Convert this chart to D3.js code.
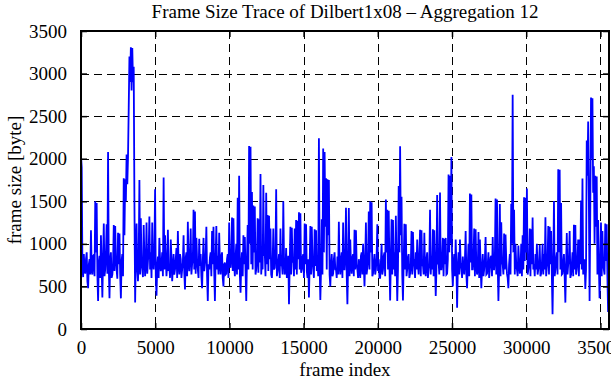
<!DOCTYPE html>
<html>
<head>
<meta charset="utf-8">
<script src="https://cdn.jsdelivr.net/npm/d3@7"></script>
<style>
  body { margin: 0; background: #fff; }
  text { font-family: "Liberation Serif", "Times New Roman", serif; fill: #000; }
</style>
</head>
<body>
<svg id="chart" width="611" height="380"></svg>
<script>
// frame size trace, one value every 48 frames
const frameStep = 48;
const frameSizes = [
  2040, 1900, 720, 610, 880, 700, 650, 820, 900, 560, 480, 760, 820, 640, 1160, 700, 640, 860, 870, 620,
  1500, 900, 1480, 640, 330, 780, 860, 600, 1100, 720, 370, 840, 1240, 620, 700, 880, 1230, 650, 2080, 740,
  360, 820, 900, 600, 640, 760, 1220, 680, 1210, 840, 700, 590, 1130, 760, 1120, 640, 360, 800, 880, 620,
  1770, 1100, 1760, 1500, 2050, 1700, 2020, 2600, 3200, 2900, 3310, 2800, 3300, 2900, 3080, 1500, 310, 900, 1240, 700,
  560, 820, 1750, 640, 1300, 760, 700, 610, 1220, 860, 620, 780, 1250, 650, 800, 900, 1320, 700, 900, 600,
  1250, 760, 700, 880, 1640, 620, 390, 740, 850, 600, 1070, 820, 680, 760, 900, 620, 1780, 700, 1100, 840,
  620, 760, 1165, 680, 750, 600, 1050, 840, 560, 720, 880, 640, 700, 820, 950, 600, 1150, 760, 640, 880,
  820, 600, 700, 780, 1100, 660, 465, 840, 900, 620, 1260, 760, 680, 880, 1180, 640, 760, 820, 1400, 700,
  1380, 650, 1070, 800, 700, 600, 1060, 740, 880, 620, 480, 800, 1070, 680, 760, 860, 1200, 620, 330, 760,
  700, 840, 900, 620, 1150, 760, 1200, 680, 330, 820, 1210, 700, 860, 640, 1130, 780, 640, 860, 900, 600,
  500, 760, 780, 640, 650, 820, 880, 600, 1250, 740, 720, 860, 1310, 680, 1300, 760, 620, 840, 1000, 640,
  1540, 700, 1800, 640, 425, 780, 900, 620, 1100, 760, 1080, 680, 330, 820, 1220, 700, 2150, 1000, 2140, 760,
  1610, 700, 1450, 900, 1440, 640, 700, 820, 1300, 660, 1290, 780, 1820, 640, 800, 700, 1690, 860, 900, 620,
  1600, 760, 1340, 680, 1330, 820, 1180, 640, 600, 760, 1180, 700, 720, 860, 1640, 620, 680, 780, 880, 600,
  1180, 740, 760, 640, 1500, 820, 640, 700, 950, 600, 700, 860, 290, 760, 1200, 640, 1190, 780, 820, 620,
  1180, 700, 1280, 640, 1270, 820, 1370, 700, 1360, 660, 700, 840, 880, 600, 1240, 760, 1230, 680, 600, 820,
  370, 760, 1210, 640, 1200, 820, 700, 600, 1170, 740, 1160, 680, 820, 620, 2240, 760, 340, 700, 1290, 640,
  2120, 900, 2080, 1200, 1770, 700, 1760, 1100, 1750, 640, 500, 760, 880, 620, 650, 820, 900, 700, 700, 600,
  850, 640, 1260, 760, 640, 820, 900, 600, 1250, 700, 700, 860, 1425, 640, 290, 780, 1420, 620, 1050, 760,
  650, 840, 880, 620, 1165, 700, 1160, 760, 700, 600, 820, 700, 600, 860, 900, 640, 1000, 760, 500, 820,
  1250, 640, 720, 820, 1380, 700, 1500, 900, 1490, 620, 650, 780, 880, 640, 700, 840, 1230, 680, 820, 600,
  600, 780, 1000, 640, 700, 860, 900, 620, 1520, 900, 1400, 700, 1390, 760, 336, 820, 1290, 640, 1280, 700,
  900, 620, 1330, 760, 330, 700, 1680, 900, 2145, 1100, 1554, 640, 335, 780, 1235, 700, 1230, 620, 700, 840,
  880, 600, 650, 760, 1150, 640, 1140, 820, 720, 600, 900, 700, 1050, 760, 640, 860, 1165, 620, 1160, 740,
  760, 640, 1130, 700, 620, 820, 900, 600, 700, 760, 1400, 640, 860, 700, 1170, 620, 1160, 780, 388, 700,
  1573, 760, 800, 640, 1604, 700, 700, 820, 1070, 620, 1060, 760, 1070, 640, 650, 820, 1814, 900, 1800, 1000,
  2020, 700, 500, 780, 880, 620, 1050, 760, 250, 700, 900, 640, 1050, 780, 700, 600, 850, 720, 640, 820,
  1150, 640, 480, 760, 1000, 620, 1590, 780, 1580, 700, 700, 840, 1180, 620, 1170, 760, 640, 700, 1140, 600,
  1050, 760, 480, 700, 880, 620, 700, 820, 1080, 640, 650, 760, 900, 600, 720, 840, 860, 620, 1080, 700,
  700, 820, 1534, 640, 1520, 760, 330, 700, 1468, 620, 1254, 780, 760, 640, 1120, 700, 1110, 820, 650, 600,
  480, 760, 880, 640, 1470, 1000, 2751, 900, 1400, 640, 1000, 760, 700, 620, 980, 800, 650, 700, 1000, 620,
  1100, 700, 1546, 800, 1540, 900, 1651, 640, 700, 760, 1180, 620, 1170, 760, 1310, 700, 760, 620, 880, 700,
  1000, 640, 700, 780, 990, 620, 650, 760, 1000, 640, 880, 700, 1313, 620, 720, 800, 1210, 640, 1200, 760,
  1150, 640, 173, 760, 1503, 620, 700, 820, 900, 640, 1876, 900, 1870, 700, 1480, 640, 650, 780, 880, 620,
  310, 760, 1126, 640, 760, 820, 1150, 600, 640, 760, 900, 620, 1223, 700, 1220, 640, 700, 820, 1050, 620,
  1050, 760, 1510, 700, 1768, 640, 760, 820, 470, 700, 2215, 1800, 2437, 1500, 330, 1400, 2720, 2000, 2710, 1600,
  1911, 1000, 1800, 1200, 1790, 640, 1280, 760, 360, 700, 1250, 620, 1150, 760, 700, 640, 1240, 800, 1230, 620, 200
];
const xTicks = [0, 5000, 10000, 15000, 20000, 25000, 30000, 35000];
const yTicks = [0, 500, 1000, 1500, 2000, 2500, 3000, 3500];
const xMax = 35580;
const yMax = 3500;

const width = 611, height = 380;
const margin = { top: 31, right: 2, bottom: 51, left: 81 };
const fontSize = 19;

const svg = d3.select("#chart");

const x = d3.scaleLinear().domain([0, xMax]).range([margin.left, width - margin.right]);
const y = d3.scaleLinear().domain([0, yMax]).range([height - margin.bottom, margin.top]);

const plotW = width - margin.left - margin.right;
const plotH = height - margin.top - margin.bottom;

// dashed grid, behind the trace
const grid = svg.append("g").attr("stroke", "#000").attr("stroke-width", 1).attr("stroke-dasharray", "8,5");
grid.selectAll(".gx").data(xTicks.filter(d => d > 0)).enter().append("line")
  .attr("x1", d => Math.round(x(d)) + 0.5).attr("x2", d => Math.round(x(d)) + 0.5)
  .attr("y1", margin.top).attr("y2", height - margin.bottom);
grid.selectAll(".gy").data(yTicks.filter(d => d > 0 && d < yMax)).enter().append("line")
  .attr("y1", d => Math.round(y(d)) + 0.5).attr("y2", d => Math.round(y(d)) + 0.5)
  .attr("x1", margin.left).attr("x2", width - margin.right);

svg.append("clipPath").attr("id", "clip").append("rect")
  .attr("x", margin.left).attr("y", margin.top).attr("width", plotW).attr("height", plotH);

const line = d3.line()
  .x((d, i) => x(i * frameStep))
  .y(d => y(d));

svg.append("path")
  .datum(frameSizes)
  .attr("clip-path", "url(#clip)")
  .attr("fill", "none")
  .attr("stroke", "#0000ff")
  .attr("stroke-width", 1.8)
  .attr("d", line);

// axes, inward ticks on all four sides
const tickLen = 6;
const fmt = d3.format("d");

const axB = svg.append("g").attr("transform", `translate(0,${height - margin.bottom})`)
  .call(d3.axisBottom(x).tickValues(xTicks).tickSizeInner(-tickLen).tickSizeOuter(0).tickPadding(12).tickFormat(fmt));
const axT = svg.append("g").attr("transform", `translate(0,${margin.top})`)
  .call(d3.axisTop(x).tickValues(xTicks).tickSizeInner(-tickLen).tickSizeOuter(0).tickFormat(""));
const axL = svg.append("g").attr("transform", `translate(${margin.left},0)`)
  .call(d3.axisLeft(y).tickValues(yTicks).tickSizeInner(-tickLen).tickSizeOuter(0).tickPadding(14).tickFormat(fmt));
const axR = svg.append("g").attr("transform", `translate(${width - margin.right},0)`)
  .call(d3.axisRight(y).tickValues(yTicks).tickSizeInner(-tickLen).tickSizeOuter(0).tickFormat(""));

[axB, axT, axL, axR].forEach(g => {
  g.select(".domain").remove();
  g.selectAll(".tick line").attr("stroke", "#000").attr("stroke-width", 1.5);
  g.selectAll("text").attr("font-size", fontSize).attr("font-family", "Liberation Serif, Times New Roman, serif");
});

// frame
svg.append("rect")
  .attr("x", margin.left).attr("y", margin.top)
  .attr("width", plotW).attr("height", plotH)
  .attr("fill", "none").attr("stroke", "#000").attr("stroke-width", 2);

// title and axis labels
svg.append("text")
  .attr("x", margin.left + plotW / 2).attr("y", 18)
  .attr("text-anchor", "middle").attr("font-size", fontSize)
  .text("Frame Size Trace of Dilbert1x08 \u2013 Aggregation 12");

svg.append("text")
  .attr("x", margin.left + plotW / 2).attr("y", 376)
  .attr("text-anchor", "middle").attr("font-size", fontSize)
  .text("frame index");

svg.append("text")
  .attr("transform", `translate(21,${margin.top + plotH / 2}) rotate(-90)`)
  .attr("text-anchor", "middle").attr("font-size", fontSize)
  .text("frame size [byte]");
</script>
</body>
</html>
